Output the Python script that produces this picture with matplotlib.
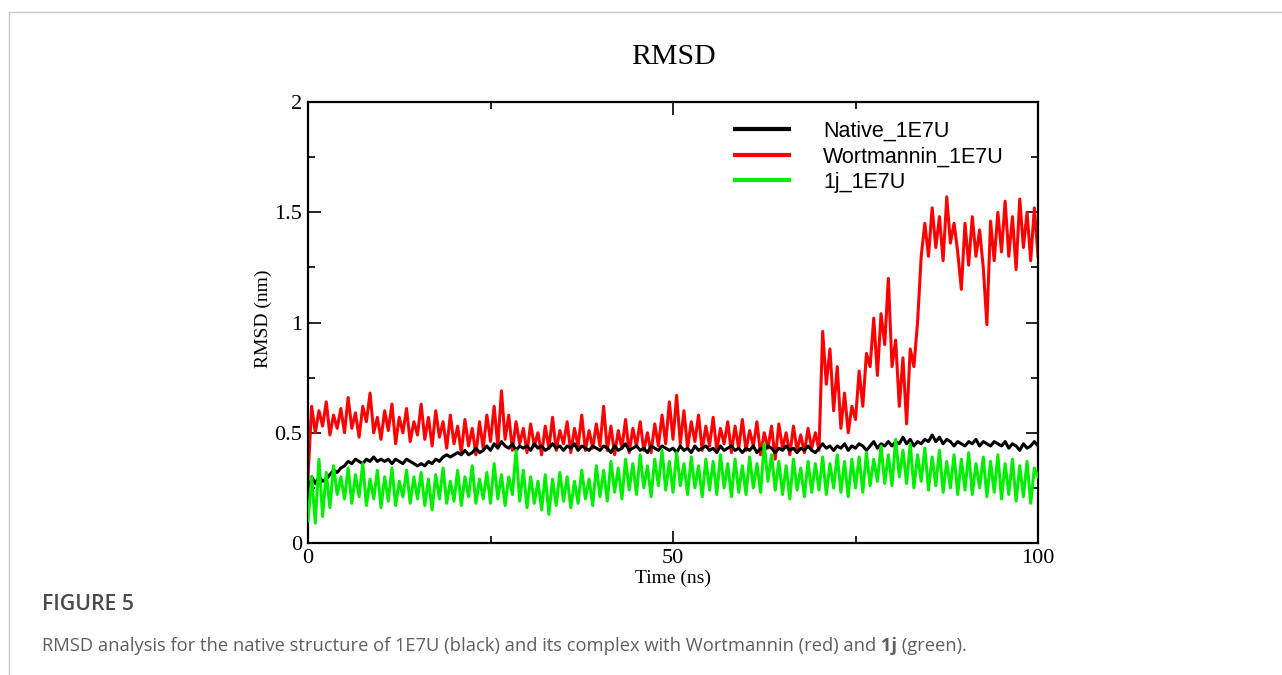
import numpy as np
import matplotlib
matplotlib.use("Agg")
import matplotlib.pyplot as plt
from matplotlib.lines import Line2D

# time axis, one frame every 0.5 ns
time_ns = np.linspace(0, 100, 201)

# RMSD (nm)
native = [
    0.22, 0.30, 0.27, 0.30, 0.28, 0.29, 0.31, 0.33, 0.32, 0.34,
    0.35, 0.37, 0.36, 0.38, 0.37, 0.36, 0.38, 0.37, 0.39, 0.37,
    0.38, 0.37, 0.38, 0.36, 0.38, 0.37, 0.36, 0.38, 0.37, 0.36,
    0.35, 0.36, 0.35, 0.37, 0.36, 0.38, 0.37, 0.39, 0.40, 0.39,
    0.40, 0.41, 0.40, 0.42, 0.40, 0.41, 0.43, 0.41, 0.42, 0.44,
    0.42, 0.45, 0.43, 0.46, 0.44, 0.43, 0.45, 0.42, 0.44, 0.43,
    0.44, 0.42, 0.45, 0.43, 0.44, 0.42, 0.43, 0.45, 0.43, 0.44,
    0.42, 0.44, 0.43, 0.45, 0.42, 0.44, 0.43, 0.42, 0.44, 0.43,
    0.42, 0.44, 0.43, 0.41, 0.44, 0.42, 0.43, 0.45, 0.42, 0.43,
    0.44, 0.42, 0.43, 0.41, 0.44, 0.43, 0.42, 0.44, 0.43, 0.42,
    0.43, 0.41, 0.44, 0.42, 0.43, 0.41, 0.44, 0.42, 0.43, 0.44,
    0.42, 0.43, 0.41, 0.44, 0.42, 0.43, 0.44, 0.42, 0.43, 0.41,
    0.43, 0.42, 0.44, 0.41, 0.43, 0.42, 0.44, 0.43, 0.41, 0.43,
    0.42, 0.44, 0.42, 0.43, 0.41, 0.43, 0.42, 0.44, 0.42, 0.41,
    0.43, 0.45, 0.43, 0.44, 0.42, 0.44, 0.43, 0.45, 0.42, 0.44,
    0.43, 0.45, 0.44, 0.42, 0.44, 0.46, 0.43, 0.45, 0.44, 0.46,
    0.44, 0.46, 0.45, 0.48, 0.45, 0.47, 0.44, 0.46, 0.45, 0.47,
    0.46, 0.49, 0.46, 0.48, 0.45, 0.47, 0.46, 0.44, 0.46, 0.45,
    0.44, 0.46, 0.45, 0.47, 0.44, 0.46, 0.45, 0.44, 0.46, 0.45,
    0.44, 0.46, 0.43, 0.45, 0.44, 0.42, 0.45, 0.43, 0.44, 0.46,
    0.44,
]

wortmannin = [
    0.30, 0.62, 0.50, 0.60, 0.53, 0.64, 0.49, 0.58, 0.52, 0.61,
    0.50, 0.66, 0.52, 0.59, 0.48, 0.62, 0.55, 0.68, 0.50, 0.57,
    0.47, 0.60, 0.51, 0.63, 0.45, 0.57, 0.50, 0.61, 0.46, 0.55,
    0.49, 0.63, 0.47, 0.57, 0.44, 0.60, 0.48, 0.55, 0.43, 0.58,
    0.45, 0.53, 0.41, 0.56, 0.44, 0.52, 0.40, 0.55, 0.43, 0.58,
    0.46, 0.62, 0.44, 0.69, 0.47, 0.58, 0.42, 0.55, 0.45, 0.52,
    0.41, 0.54, 0.44, 0.50, 0.40, 0.53, 0.43, 0.57, 0.42, 0.51,
    0.45, 0.55, 0.41, 0.52, 0.44, 0.58, 0.42, 0.51, 0.43, 0.54,
    0.44, 0.62, 0.42, 0.53, 0.40, 0.51, 0.43, 0.56, 0.41, 0.52,
    0.44, 0.55, 0.42, 0.50, 0.41, 0.54, 0.44, 0.58, 0.45, 0.64,
    0.47, 0.67, 0.45, 0.60, 0.43, 0.55, 0.46, 0.58, 0.42, 0.53,
    0.44, 0.57, 0.42, 0.52, 0.45, 0.55, 0.41, 0.53, 0.43, 0.56,
    0.42, 0.51, 0.44, 0.55, 0.40, 0.50, 0.43, 0.53, 0.38, 0.54,
    0.43, 0.50, 0.40, 0.53, 0.42, 0.49, 0.41, 0.52, 0.43, 0.50,
    0.42, 0.96, 0.72, 0.88, 0.60, 0.80, 0.52, 0.68, 0.50, 0.62,
    0.56, 0.78, 0.62, 0.86, 0.80, 1.02, 0.76, 1.04, 0.90, 1.20,
    0.80, 0.92, 0.62, 0.84, 0.54, 0.88, 0.80, 1.00, 1.30, 1.45,
    1.30, 1.52, 1.34, 1.48, 1.28, 1.57, 1.36, 1.45, 1.32, 1.15,
    1.45, 1.26, 1.48, 1.30, 1.42, 1.25, 0.99, 1.46, 1.28, 1.50,
    1.32, 1.55, 1.30, 1.48, 1.24, 1.56, 1.34, 1.50, 1.28, 1.52,
    1.30,
]

cmpd_1j = [
    0.10, 0.30, 0.09, 0.38, 0.12, 0.32, 0.16, 0.35, 0.22, 0.30,
    0.20, 0.34, 0.18, 0.31, 0.21, 0.36, 0.17, 0.29, 0.20, 0.33,
    0.16, 0.30, 0.19, 0.34, 0.17, 0.28, 0.21, 0.33, 0.18, 0.30,
    0.20, 0.32, 0.17, 0.29, 0.15, 0.31, 0.20, 0.34, 0.18, 0.28,
    0.19, 0.33, 0.17, 0.30, 0.21, 0.35, 0.18, 0.29, 0.20, 0.32,
    0.18, 0.36, 0.20, 0.31, 0.17, 0.30, 0.22, 0.42, 0.19, 0.33,
    0.16, 0.30, 0.18, 0.28, 0.15, 0.31, 0.13, 0.29, 0.17, 0.32,
    0.19, 0.30, 0.16, 0.28, 0.18, 0.33, 0.20, 0.29, 0.17, 0.35,
    0.21, 0.33, 0.19, 0.37, 0.23, 0.34, 0.20, 0.38, 0.24, 0.36,
    0.22, 0.40, 0.25, 0.35, 0.21, 0.38, 0.26, 0.42, 0.24, 0.37,
    0.23, 0.41, 0.26, 0.36, 0.22, 0.39, 0.25, 0.35, 0.21, 0.38,
    0.24, 0.37, 0.22, 0.40, 0.25, 0.36, 0.21, 0.38, 0.23, 0.35,
    0.22, 0.39, 0.25, 0.36, 0.23, 0.45, 0.28, 0.40, 0.24, 0.37,
    0.22, 0.35, 0.20, 0.38, 0.24, 0.34, 0.21, 0.37, 0.23, 0.36,
    0.24, 0.39, 0.22, 0.36, 0.25, 0.40, 0.23, 0.37, 0.21, 0.38,
    0.25, 0.39, 0.23, 0.41, 0.26, 0.38, 0.28, 0.44, 0.27, 0.40,
    0.26, 0.47, 0.30, 0.42, 0.27, 0.45, 0.25, 0.40, 0.28, 0.43,
    0.24, 0.39, 0.26, 0.42, 0.23, 0.37, 0.25, 0.40, 0.22, 0.38,
    0.24, 0.41, 0.22, 0.36, 0.25, 0.39, 0.21, 0.37, 0.23, 0.40,
    0.20, 0.36, 0.22, 0.38, 0.19, 0.35, 0.21, 0.37, 0.18, 0.34,
    0.30,
]

labels = ["Native_1E7U", "Wortmannin_1E7U", "1j_1E7U"]
colors = ["#000000", "#ff0000", "#00ee00"]

W, H = 1282, 675
fig = plt.figure(figsize=(W / 100, H / 100), dpi=100)
ax = fig.add_axes([308 / W, 1 - 543 / H, 730 / W, 441 / H])

serif = "Liberation Serif"

# draw order: red under black under green
ax.plot(time_ns, wortmannin, color=colors[1], lw=2.2, zorder=2)
ax.plot(time_ns, native, color=colors[0], lw=2.2, zorder=3)
ax.plot(time_ns, cmpd_1j, color=colors[2], lw=2.2, zorder=4)

ax.set_xlim(0, 100)
ax.set_ylim(0, 2)
ax.set_xticks([0, 50, 100])
ax.set_xticks([25, 75], minor=True)
ax.set_yticks([0, 0.5, 1, 1.5, 2])
ax.set_yticklabels(["0", "0.5", "1", "1.5", "2"])
ax.set_yticks([0.25, 0.75, 1.25, 1.75], minor=True)
ax.tick_params(which="both", direction="in", top=True, right=True,
               width=1.2, labelsize=16, pad=4)
ax.tick_params(which="major", length=9)
ax.tick_params(which="minor", length=5)
for lab in ax.get_xticklabels() + ax.get_yticklabels():
    lab.set_fontfamily(serif)
for sp in ax.spines.values():
    sp.set_linewidth(1.6)

ax.set_xlabel("Time (ns)", fontsize=14, family=serif)
ax.set_ylabel("RMSD (nm)", fontsize=14, family=serif)
ax.xaxis.set_label_coords(0.5, -0.06)
ax.yaxis.set_label_coords(-0.049, 0.508)
fig.text(674 / W, 1 - 57 / H, "RMSD", fontsize=21.5, family=serif,
         ha="center", va="center")

handles = [Line2D([], [], color=c, lw=3) for c in colors]
fig.legend(handles, labels, loc="upper left",
           bbox_to_anchor=(735 / W, 1 - 121 / H), frameon=False,
           prop={"family": "Liberation Sans", "size": 15.5},
           handlelength=2.5, handletextpad=1.6, labelspacing=0.2,
           borderpad=0, borderaxespad=0)

# page frame lines around the figure panel
frame_col = "#c8c8c8"
fig.add_artist(Line2D([9 / W, 1], [1 - 11.5 / H, 1 - 11.5 / H],
                      color=frame_col, lw=1))
fig.add_artist(Line2D([9 / W, 9 / W], [0, 1 - 11.5 / H],
                      color=frame_col, lw=1))

# caption
fig.text(42 / W, 1 - 604 / H, "FIGURE 5", fontsize=15.3, family="Open Sans",
         weight="semibold", color="#4a4a4a", va="center")
cap_col = "#5f5f5f"
base_y = 1 - 651 / H
pieces = [
    ("RMSD analysis for the native structure of 1E7U (black) and its "
     "complex with Wortmannin (red) and", "normal"),
    (" 1j", "bold"),
    (" (green).", "normal"),
]
renderer = fig.canvas.get_renderer()
x0 = 42 / W
for txt, wt in pieces:
    t = fig.text(x0, base_y, txt, fontsize=13.25, family="Open Sans",
                 weight=wt, color=cap_col, va="baseline")
    bb = t.get_window_extent(renderer)
    x0 = bb.x1 / W

fig.savefig("out.png", dpi=100)
